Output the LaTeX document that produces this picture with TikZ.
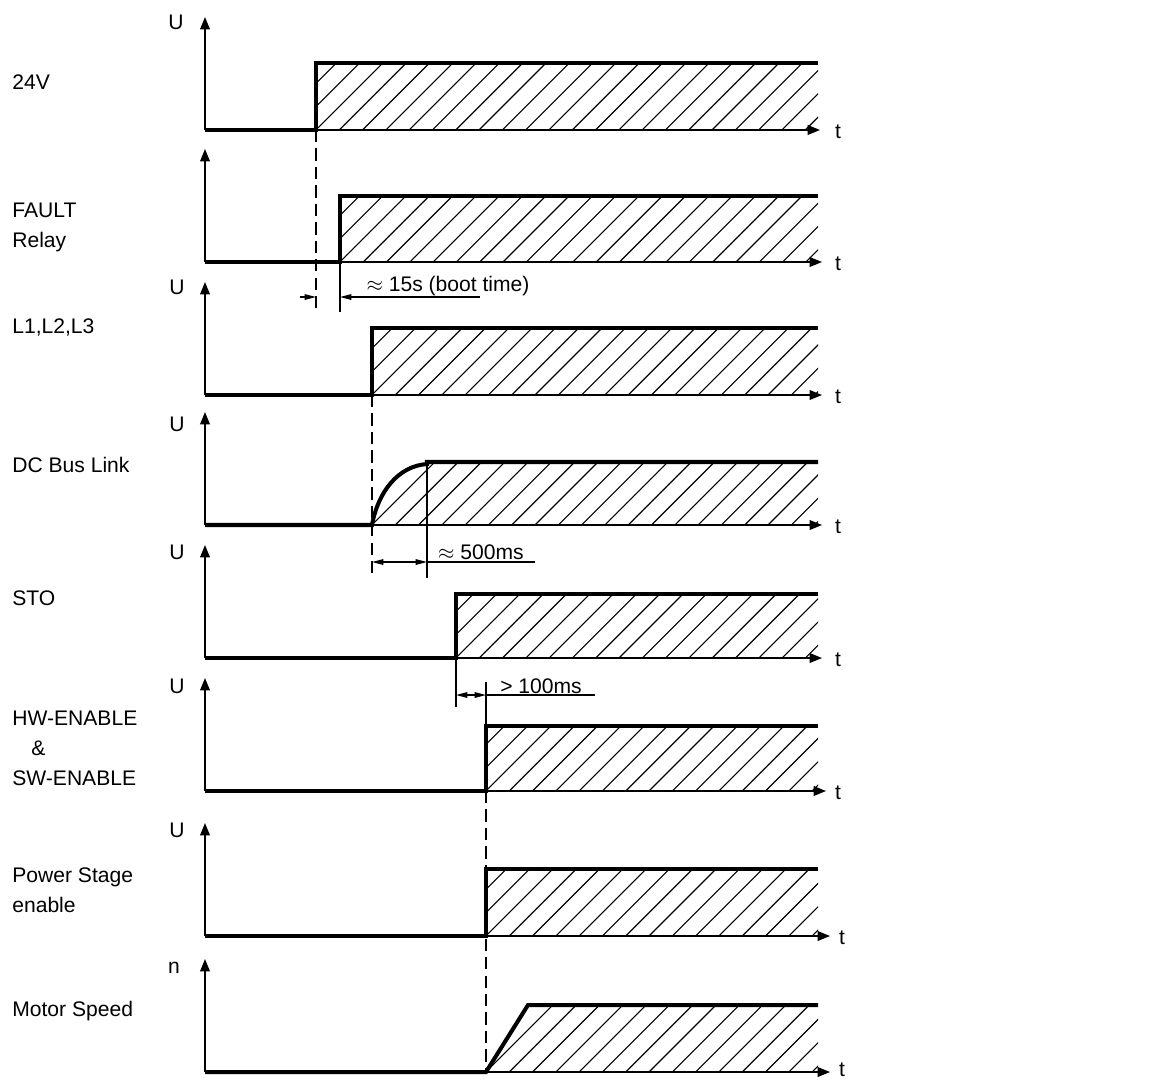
\documentclass[tikz,border=0pt]{standalone}
\usepackage{fontspec}
\setmainfont{Liberation Sans}
\usetikzlibrary{arrows.meta}
\tikzset{
  sig/.style={line width=2.3pt, line join=miter},
  axis/.style={line width=0.85pt, -{Triangle[length=7pt,width=5.5pt]}},
  hatch/.style={line width=0.65pt},
  dimline/.style={line width=0.75pt},
  ext/.style={line width=0.75pt},
  extdash/.style={line width=0.75pt, dash pattern=on 7pt off 3.5pt},
  lbl/.style={anchor=west, inner sep=0pt, align=left, font=\fontsize{12}{17}\selectfont},
  txt/.style={inner sep=0pt, font=\fontsize{12}{14}\selectfont}
}
\begin{document}
\begin{tikzpicture}[x=0.02cm, y=-0.02cm, >={Triangle[length=6.5pt,width=3.2pt]}]
  \useasboundingbox (0,0) rectangle (1152,1080);
  % Zeitachsen der Signale
  \foreach \b/\xe/\tx/\ty/\n in {130/820/838/132/a, 262/822/838/264/b, 395/822/838/397/c, 525/822/838/527/d,
      658/822/838/660/e, 791/826/838/793/f, 936/830/842/938/g, 1072/830/842/1070/h}{
    \draw[axis] (205,\b) -- (205,\b-113);
    \draw[axis] (205,\b) -- (\xe,\b);
    \node[txt] (t\n) at (\tx,\ty) {t};
  }
  % Rechteck-Signale mit Schraffur
  \foreach \b/\h/\xs in {130/63/316, 262/196/340, 395/328/372, 658/594/456, 791/726/486, 936/869/486}{
    \begin{scope}
      \clip (\xs,\b) rectangle (818,\h);
      \foreach \k in {0,...,25} \draw[hatch] (\xs-70+\k*23.3,\b) -- ++(80,-80);
    \end{scope}
    \draw[sig] (205,\b) -- (\xs,\b) -- (\xs,\h) -- (818,\h);
  }
  % DC Bus Link
  \begin{scope}
    \clip (372,525) .. controls (378,492) and (398,466) .. (427,464) -- (427,462) -- (818,462) -- (818,525) -- cycle;
    \foreach \k in {0,...,25} \draw[hatch] (302+\k*23.3,525) -- ++(80,-80);
  \end{scope}
  \draw[sig] (205,525) -- (372,525) .. controls (378,492) and (398,466) .. (427,464) -- (427,462) -- (818,462);
  % Motor Speed
  \begin{scope}
    \clip (486,1072) -- (528,1005) -- (818,1005) -- (818,1072) -- cycle;
    \foreach \k in {0,...,25} \draw[hatch] (416+\k*23.3,1072) -- ++(80,-80);
  \end{scope}
  \draw[sig] (205,1072) -- (486,1072) -- (528,1005) -- (818,1005);

  % Beschriftung links
  \node[lbl] (s24v) at (12,82) {24V};
  \node[lbl] (sfault) at (12,227) {FAULT\\Relay};
  \node[lbl] (sline) at (12,327) {L1,L2,L3};
  \node[lbl] (sdc) at (12,465) {DC Bus Link};
  \node[lbl] (ssto) at (12,598) {STO};
  \node[lbl] (senable) at (12,748) {HW-ENABLE\\\hspace{0.9em}\&\\SW-ENABLE};
  \node[lbl] (spower) at (12,890) {Power Stage\\enable};
  \node[lbl] (smotor) at (12,1011) {Motor Speed};
  \node[txt] (ua) at (176,22) {U};
  \node[txt] (uc) at (177,287) {U};
  \node[txt] (ud) at (177,424) {U};
  \node[txt] (ue) at (177,552) {U};
  \node[txt] (uf) at (177,686) {U};
  \node[txt] (ug) at (177,830) {U};
  \node[txt] (nh) at (174,968) {n};

  % Zeitabstaende
  \coordinate (boota) at (316,297);
  \coordinate (bootb) at (340,297);
  \draw[extdash] (316,130) -- (316,312);
  \draw[ext] (340,262) -- (340,312);
  \draw[dimline,->] (300,297) -- (boota);
  \draw[dimline,<-] (bootb) -- (480,297);
  \node[txt] (tboot) at (448,286) {$\approx$ 15s (boot time)};

  \coordinate (dca) at (372,562);
  \coordinate (dcb) at (427,562);
  \draw[extdash] (372,395) -- (372,578);
  \draw[ext] (427,462) -- (427,578);
  \draw[dimline,<->] (dca) -- (dcb);
  \draw[dimline] (dcb) -- (535,562);
  \node[txt] (tdc) at (481,552) {$\approx$ 500ms};

  \coordinate (ena) at (456,695);
  \coordinate (enb) at (486,695);
  \draw[ext] (456,658) -- (456,707);
  \draw[ext] (486,682) -- (486,726);
  \draw[dimline,<->] (ena) -- (enb);
  \draw[dimline] (enb) -- (595,695);
  \node[txt] (ten) at (541,686) {> 100ms};

  \draw[extdash] (486,791) -- (486,1072);
\end{tikzpicture}
\end{document}
